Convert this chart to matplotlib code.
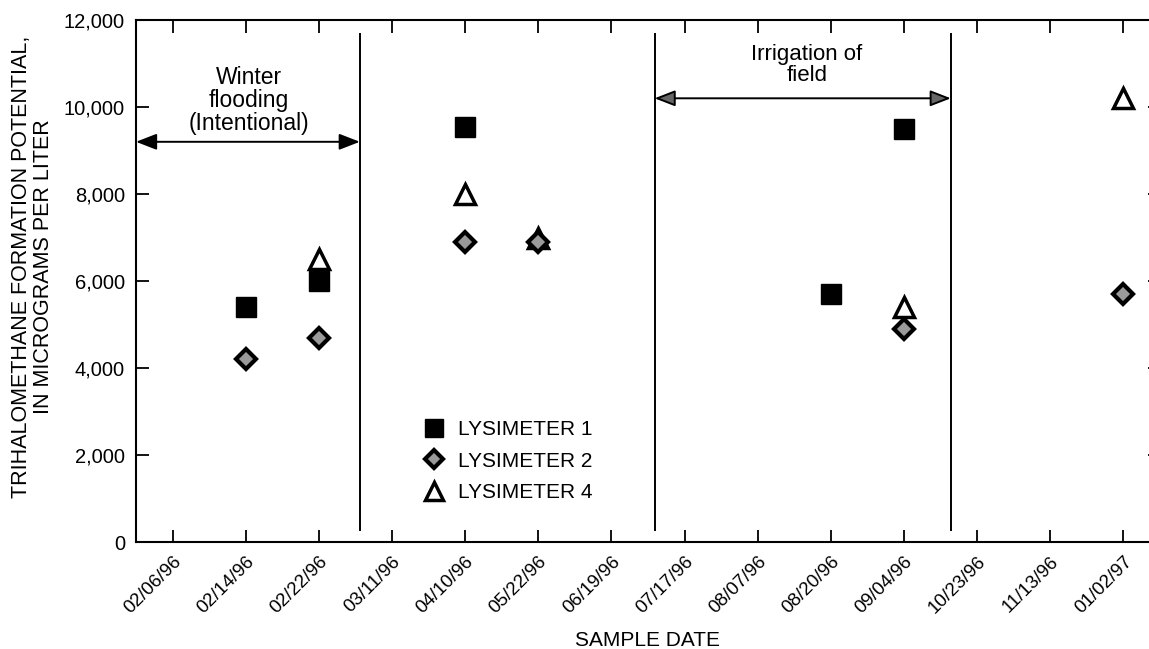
import matplotlib
matplotlib.use("Agg")
import matplotlib.pyplot as plt
from matplotlib.ticker import StrMethodFormatter

# fechas de muestreo (eje categorico)
dates = ['02/06/96', '02/14/96', '02/22/96', '03/11/96', '04/10/96', '05/22/96',
         '06/19/96', '07/17/96', '08/07/96', '08/20/96', '09/04/96', '10/23/96',
         '11/13/96', '01/02/97']

lys1_dates = ['02/14/96', '02/22/96', '04/10/96', '08/20/96', '09/04/96']
lys1 = [5400, 6000, 9550, 5700, 9500]

lys2_dates = ['02/14/96', '02/22/96', '04/10/96', '05/22/96', '09/04/96', '01/02/97']
lys2 = [4200, 4700, 6900, 6900, 4900, 5700]

lys4_dates = ['02/22/96', '04/10/96', '05/22/96', '09/04/96', '01/02/97']
lys4 = [6500, 8000, 7000, 5400, 10200]

# limites de los periodos (en posicion de categoria)
period_bounds = [2.56, 6.59, 10.64]

plt.rcParams['font.family'] = ['Liberation Sans', 'DejaVu Sans']

fig = plt.figure(figsize=(11.49, 6.49), dpi=100)
ax = fig.add_axes([136 / 1149, 1 - 542 / 649, 1024 / 1149, 522 / 649])

pos = lambda ds: [dates.index(d) for d in ds]

h4, = ax.plot(pos(lys4_dates), lys4, ls='none', marker='^', ms=14, mfc='white',
              mec='black', mew=2.5, label='LYSIMETER 4', zorder=3)
h1, = ax.plot(pos(lys1_dates), lys1, ls='none', marker='s', ms=14, mfc='black',
              mec='black', mew=1, label='LYSIMETER 1', zorder=4)
h2, = ax.plot(pos(lys2_dates), lys2, ls='none', marker='D', ms=10, mfc='#9a9a9a',
              mec='black', mew=3, label='LYSIMETER 2', zorder=5)

for b in period_bounds:
    ax.vlines(b, 250, 11700, color='black', lw=1.4)

ax.annotate('', xy=(-0.5, 9200), xytext=(period_bounds[0], 9200),
            arrowprops=dict(arrowstyle='<|-|>,head_length=0.9,head_width=0.35',
                            color='black', lw=1.4, shrinkA=0, shrinkB=0,
                            mutation_scale=14))
ax.annotate('', xy=(period_bounds[1], 10200), xytext=(period_bounds[2], 10200),
            arrowprops=dict(arrowstyle='<|-|>,head_length=0.9,head_width=0.35',
                            fc='#666666', ec='black', lw=1.4, shrinkA=0, shrinkB=0,
                            mutation_scale=14))
ax.text(1.04, 10150, 'Winter\nflooding\n(Intentional)', ha='center', va='center',
        fontsize=16.5, linespacing=1.0)
ax.text(8.67, 10970, 'Irrigation of\nfield', ha='center', va='center',
        fontsize=16, linespacing=1.0)

ax.set_xlim(-0.5, 13.5)
ax.set_ylim(0, 12000)
ax.set_xticks(range(len(dates)))
ax.set_xticklabels(dates, rotation=45, ha='right', rotation_mode='anchor', fontsize=13.5)
ax.set_yticks(range(0, 12001, 2000))
ax.yaxis.set_major_formatter(StrMethodFormatter('{x:,.0f}'))
ax.tick_params(direction='in', length=9, width=1.3, top=True, right=True, colors='black')
ax.tick_params(axis='y', labelsize=14.5, pad=8)
ax.tick_params(axis='x', pad=8)
for s in ax.spines.values():
    s.set_linewidth(1.5)

ax.set_xlabel('SAMPLE DATE', fontsize=15, labelpad=10)
ax.set_ylabel('TRIHALOMETHANE FORMATION POTENTIAL,\nIN MICROGRAMS PER LITER',
              fontsize=15.5, linespacing=1.05)
ax.yaxis.set_label_coords(-0.08, 0.527)

ax.legend(handles=[h1, h2, h4], loc='center left', bbox_to_anchor=(0.262, 0.155),
          frameon=False, fontsize=15, handletextpad=0.6, labelspacing=0.6,
          handlelength=1.1, markerscale=0.9)

fig.savefig('out.png', dpi=100, facecolor='white')
